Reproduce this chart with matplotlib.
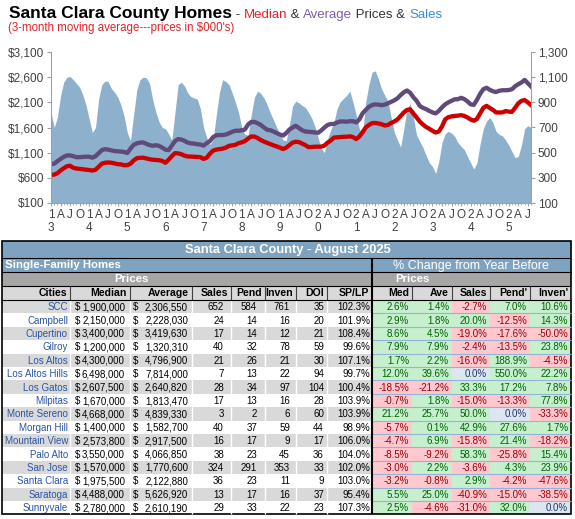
import numpy as np
import matplotlib
matplotlib.use("Agg")
import matplotlib.pyplot as plt
from matplotlib.patches import Rectangle

plt.rcParams['font.family'] = ['Liberation Sans', 'DejaVu Sans']

W, H = 575, 519

# -----------------------------
# Chart data (3-month moving averages, Jan 2013 - Aug 2025)
# -----------------------------
sales_3mo = [
    819, 700, 780, 950, 1060, 1100, 1105, 1080, 1050, 1020, 960, 880,     # 2013
    770, 660, 700, 930, 1040, 1070, 1065, 1010, 980, 940, 880, 790,       # 2014
    660, 595, 800, 1000, 1080, 1100, 1095, 1050, 920, 820, 745, 700,      # 2015
    690, 650, 600, 820, 1040, 1060, 1030, 975, 945, 935, 925, 850,        # 2016
    700, 620, 565, 600, 800, 980, 1080, 1065, 1040, 975, 900, 820,        # 2017
    700, 645, 640, 800, 940, 990, 970, 935, 880, 815, 760, 700,           # 2018
    650, 600, 595, 720, 870, 910, 895, 875, 860, 820, 775, 710,           # 2019
    620, 535, 500, 610, 680, 740, 850, 905, 930, 955, 990, 900,           # 2020
    800, 690, 640, 900, 1040, 1140, 1150, 1085, 1005, 955, 910, 780,      # 2021
    660, 600, 545, 690, 850, 890, 780, 640, 590, 540, 480, 420,           # 2022
    390, 335, 430, 580, 650, 670, 655, 630, 580, 550, 525, 470,           # 2023
    420, 370, 420, 570, 690, 750, 780, 740, 670, 645, 635, 600,           # 2024
    560, 510, 460, 470, 560, 690, 715, 700,                               # 2025
]
average_3mo = [
    874, 880, 930, 975, 1015, 1045, 1045, 1030, 1010, 1010, 1015, 1020,
    1020, 1000, 1030, 1090, 1150, 1170, 1160, 1145, 1132, 1128, 1122, 1115,
    1092, 1180, 1255, 1285, 1300, 1303, 1275, 1250, 1237, 1248, 1235, 1200,
    1160, 1150, 1240, 1330, 1370, 1360, 1335, 1300, 1285, 1280, 1268, 1262,
    1240, 1290, 1330, 1410, 1445, 1450, 1450, 1460, 1485, 1515, 1535, 1535,
    1545, 1560, 1660, 1710, 1710, 1685, 1650, 1600, 1555, 1545, 1520, 1488,
    1460, 1440, 1490, 1560, 1600, 1634, 1590, 1545, 1520, 1515, 1510, 1502,
    1495, 1540, 1600, 1650, 1670, 1670, 1700, 1720, 1720, 1715, 1725, 1725,
    1700, 1760, 1880, 1950, 2010, 2045, 2060, 2055, 2043, 2055, 2080, 2110,
    2140, 2180, 2245, 2300, 2335, 2290, 2200, 2130, 2030, 1990, 1965, 1930,
    1900, 1880, 1930, 2000, 2060, 2100, 2130, 2160, 2162, 2190, 2165, 2120,
    2060, 2050, 2150, 2270, 2360, 2390, 2350, 2320, 2305, 2330, 2340, 2340,
    2345, 2360, 2420, 2460, 2495, 2545, 2480, 2415,
]
median_3mo = [
    656, 665, 690, 745, 790, 830, 840, 800, 785, 778, 770, 762,
    755, 745, 760, 820, 880, 900, 905, 900, 885, 872, 868, 850,
    852, 880, 945, 990, 998, 1000, 985, 970, 960, 955, 950, 935,
    900, 960, 1030, 1090, 1085, 1070, 1040, 1025, 1022, 1020, 1015, 1010,
    975, 1000, 1080, 1140, 1160, 1170, 1180, 1200, 1235, 1245, 1255, 1290,
    1305, 1330, 1380, 1422, 1420, 1390, 1350, 1320, 1295, 1270, 1245, 1225,
    1200, 1172, 1200, 1250, 1300, 1317, 1310, 1280, 1250, 1210, 1212, 1218,
    1218, 1220, 1240, 1300, 1340, 1400, 1405, 1410, 1415, 1416, 1425, 1410,
    1370, 1420, 1505, 1600, 1650, 1687, 1690, 1680, 1665, 1640, 1650, 1690,
    1720, 1760, 1830, 1900, 1950, 1960, 1880, 1800, 1720, 1660, 1610, 1575,
    1535, 1500, 1520, 1620, 1760, 1805, 1820, 1830, 1835, 1845, 1830, 1800,
    1760, 1735, 1770, 1880, 1990, 2030, 1990, 1950, 1900, 1898, 1900, 1925,
    1915, 1910, 1990, 2080, 2130, 2145, 2100, 2045,
]
year_labels = ["1\n3", "1\n4", "1\n5", "1\n6", "1\n7", "1\n8", "1\n9",
               "2\n0", "2\n1", "2\n2", "2\n3", "2\n4", "2\n5"]
quarter_letters = ["A", "J", "O"]

# -----------------------------
# Table data - August 2025
# -----------------------------
cities = ["SCC", "Campbell", "Cupertino", "Gilroy", "Los Altos", "Los Altos Hills",
          "Los Gatos", "Milpitas", "Monte Sereno", "Morgan Hill", "Mountain View",
          "Palo Alto", "San Jose", "Santa Clara", "Saratoga", "Sunnyvale"]
median_price = [1900000, 2150000, 3400000, 1200000, 4300000, 6498000, 2607500, 1670000,
                4668000, 1400000, 2573800, 3550000, 1570000, 1975500, 4488000, 2780000]
average_price = [2306550, 2228030, 3419630, 1320310, 4796900, 7814000, 2640820, 1813470,
                 4839330, 1582700, 2917500, 4066850, 1770600, 2122880, 5626920, 2610190]
sales = [652, 24, 17, 40, 21, 7, 28, 17, 3, 40, 16, 38, 324, 36, 13, 29]
pending = [584, 14, 14, 32, 26, 13, 34, 13, 2, 37, 17, 23, 291, 23, 17, 33]
inventory = [761, 16, 12, 78, 21, 22, 97, 16, 6, 59, 9, 45, 353, 11, 16, 22]
doi = [35, 20, 21, 59, 30, 94, 104, 28, 60, 44, 17, 36, 33, 9, 37, 23]
sp_lp = [102.3, 101.9, 108.4, 99.6, 107.1, 99.7, 100.4, 103.9, 103.9, 98.9,
         106.0, 104.0, 102.0, 103.0, 95.4, 107.3]
chg_med = [2.6, 2.9, 8.6, 7.9, 1.7, 12.0, -18.5, -0.7, 21.2, -5.7, -4.7, -8.5, -3.0, -3.2, 5.5, 2.5]
chg_ave = [1.4, 1.8, 4.5, 7.9, 2.2, 39.6, -21.2, 1.8, 25.7, 0.1, 6.9, -9.2, 2.2, -0.8, 25.0, -4.6]
chg_sales = [-2.7, 20.0, -19.0, -2.4, -16.0, 0.0, 33.3, -15.0, 50.0, 42.9, -15.8, 58.3,
             -3.6, 2.9, -40.9, -31.0]
chg_pend = [7.0, -12.5, -17.6, -13.5, 188.9, 550.0, 17.2, -13.3, 0.0, 27.6, 21.4, -25.8,
            4.3, -4.2, -15.0, 32.0]
chg_inven = [10.6, 14.3, -50.0, 23.8, -4.5, 22.2, 7.8, 77.8, -33.3, 1.7, -18.2, 15.4,
             23.9, -47.6, -38.5, 0.0]

fig = plt.figure(figsize=(W / 100, H / 100), dpi=100)

# -----------------------------
# Title
# -----------------------------
renderer = fig.canvas.get_renderer()


def inline_text(pieces, x, y):
    for s, color, weight, size in pieces:
        t = fig.text(x / W, 1 - y / H, s, color=color, fontweight=weight,
                     fontsize=size, va='baseline', ha='left')
        x = t.get_window_extent(renderer).x1


inline_text([("Santa Clara County Homes", "black", "bold", 12.5),
             (" - ", "#333333", "normal", 9.5),
             ("Median", "#E0242B", "normal", 9.5),
             (" & ", "#333333", "normal", 9.5),
             ("Average", "#7B5FA8", "normal", 9.5),
             (" Prices & ", "#333333", "normal", 9.5),
             ("Sales", "#3C8FD8", "normal", 9.5)], 9, 18)
fig.text(8 / W, 1 - 31 / H, "(3-month moving average---prices in $000's)",
         color="#E0242B", fontsize=8.3, va='baseline')

# -----------------------------
# Chart
# -----------------------------
months = np.arange(len(sales_3mo))
ax = fig.add_axes([51 / W, 1 - 203 / H, 480 / W, 151 / H])
ax.fill_between(months, sales_3mo, 0, color='#8DB0CC', lw=0)
ax.set_xlim(0, len(months) - 1)
ax.set_ylim(100, 1300)

ax2 = ax.twinx()
ax2.plot(months, average_3mo, color='#604A7B', lw=3.1)
ax2.plot(months, median_3mo, color='#CC0000', lw=3.1)
ax2.set_ylim(100, 3100)

ax.yaxis.tick_right()
ax2.yaxis.tick_left()

ax.set_yticks(range(100, 1301, 200))
ax.set_yticklabels([f"{v:,}" for v in range(100, 1301, 200)])
ax2.set_yticks(range(100, 3101, 500))
ax2.set_yticklabels([f"${v:,}" for v in range(100, 3101, 500)])

xlabels = []
for yl in year_labels:
    xlabels.append(yl)
    xlabels.extend(quarter_letters)
ax.set_xticks(months[::3])
ax.set_xticklabels(xlabels[:len(months[::3])], linespacing=1.15)
ax.set_xticks(months, minor=True)

for a in (ax, ax2):
    a.spines['top'].set_visible(False)
ax.spines['left'].set_visible(False)
ax2.spines['right'].set_visible(False)
ax2.spines['bottom'].set_visible(False)
ax.spines['right'].set_color('#A0A0A0')
ax.spines['bottom'].set_color('#A0A0A0')
ax2.spines['left'].set_color('#A0A0A0')

ax.tick_params(axis='y', labelsize=8.5, labelcolor='#404040', color='#A0A0A0',
               length=3, pad=2)
ax2.tick_params(axis='y', labelsize=8.5, labelcolor='#404040', color='#A0A0A0',
                length=3, pad=2)
ax.tick_params(axis='x', which='major', labelsize=8.5, labelcolor='#404040',
               color='#A0A0A0', length=2.5, pad=1.5)
ax.tick_params(axis='x', which='minor', color='#A0A0A0', length=1.5)

# -----------------------------
# Table
# -----------------------------
tax = fig.add_axes([0, 0, 1, 1])
tax.set_xlim(0, W)
tax.set_ylim(H, 0)
tax.axis('off')

edges = [2, 70, 130, 192, 231, 265, 296, 327, 372, 412, 452, 490, 530, 571]
row_top, row_h = 300, 13.4
blue_bg = '#7EA3C0'
fs = 7


def box(x0, y0, x1, y1, fc):
    tax.add_patch(Rectangle((x0, y0), x1 - x0, y1 - y0, facecolor=fc,
                            edgecolor='none', lw=0))


def hline(y, x0, x1, color='black', lw=0.8):
    tax.plot([x0, x1], [y, y], color=color, lw=lw, solid_capstyle='butt')


def vline(x, y0, y1, color='black', lw=0.8):
    tax.plot([x, x], [y0, y1], color=color, lw=lw, solid_capstyle='butt')


box(2, 241, 571, 258, blue_bg)
tax.text(288, 250, "Santa Clara County - August 2025", color='white',
         fontweight='bold', fontsize=9.3, ha='center', va='center')
box(2, 258, 571, 272, blue_bg)
tax.text(5, 265.5, "Single-Family Homes", color='white', fontweight='bold',
         fontsize=8.2, ha='left', va='center')
tax.text(471, 265.5, "% Change from Year Before", color='white',
         fontsize=9, ha='center', va='center')
box(2, 272, 571, 286, '#A6A6A6')
tax.text(131, 279, "Prices", color='white', fontweight='bold', fontsize=8.2,
         ha='center', va='center')
tax.text(412, 279, "Prices", color='white', fontweight='bold', fontsize=8.2,
         ha='center', va='center')
box(2, 286, 571, 300, '#D9D9D9')

headers = ["Cities", "Median", "Average", "Sales", "Pend", "Inven", "DOI", "SP/LP",
           "Med", "Ave", "Sales", "Pend'", "Inven'"]
for j, h in enumerate(headers):
    tax.text(edges[j + 1] - 3, 293.5, h, fontweight='bold', fontsize=7.6,
             ha='right', va='center')
    vline(edges[j + 1], 286, 300, color='#404040', lw=0.8)

changes = [chg_med, chg_ave, chg_sales, chg_pend, chg_inven]
count_offsets = [7, 8, 6, 3]
for i, city in enumerate(cities):
    y0 = row_top + i * row_h
    y1 = y0 + row_h
    yc = (y0 + y1) / 2 + 0.5
    box(2, y0, 372, y1, '#D9D9D9' if i % 2 == 0 else 'white')
    tax.text(edges[1] - 2, yc, city, color='#2A55A5', fontsize=fs, ha='right', va='center')
    tax.text(75, yc, "$", fontsize=fs, ha='left', va='center')
    tax.text(edges[2] - 5, yc, f"{median_price[i]:,}", fontsize=fs, ha='right', va='center')
    tax.text(133, yc, "$", fontsize=fs, ha='left', va='center')
    tax.text(edges[3] - 4, yc, f"{average_price[i]:,}", fontsize=fs, ha='right', va='center')
    vals = [sales[i], pending[i], inventory[i], doi[i]]
    for j, v in enumerate(vals):
        tax.text(edges[4 + j] - count_offsets[j], yc, str(v), fontsize=fs,
                 ha='right', va='center')
    tax.text(edges[8] - 2, yc, f"{sp_lp[i]:.1f}%", fontsize=fs, ha='right', va='center')
    for j, col in enumerate(changes):
        v = col[i]
        if v > 0:
            fc, tc = '#C6EFCE', '#006100'
        elif v < 0:
            fc, tc = '#FFC7CE', '#9C0006'
        else:
            fc, tc = '#DCE6F1', '#1F3864'
        box(edges[8 + j], y0, edges[9 + j], y1, fc)
        tax.text(edges[9 + j] - 3, yc, f"{v:.1f}%", color=tc, fontsize=fs,
                 ha='right', va='center')
    if i > 0:
        hline(y0, 372, 571, color='#95B3D7', lw=0.8)

bottom = row_top + len(cities) * row_h
for x in edges[1:8]:
    vline(x, row_top, bottom, color='white', lw=1)

for y in (258, 272, 286, 300):
    hline(y, 2, 571, lw=0.8)
vline(372, 258, bottom, lw=1.5)
tax.add_patch(Rectangle((2, 241), 569, bottom - 241, facecolor='none',
                        edgecolor='black', lw=1.2))

fig.savefig("out.png", dpi=100)
